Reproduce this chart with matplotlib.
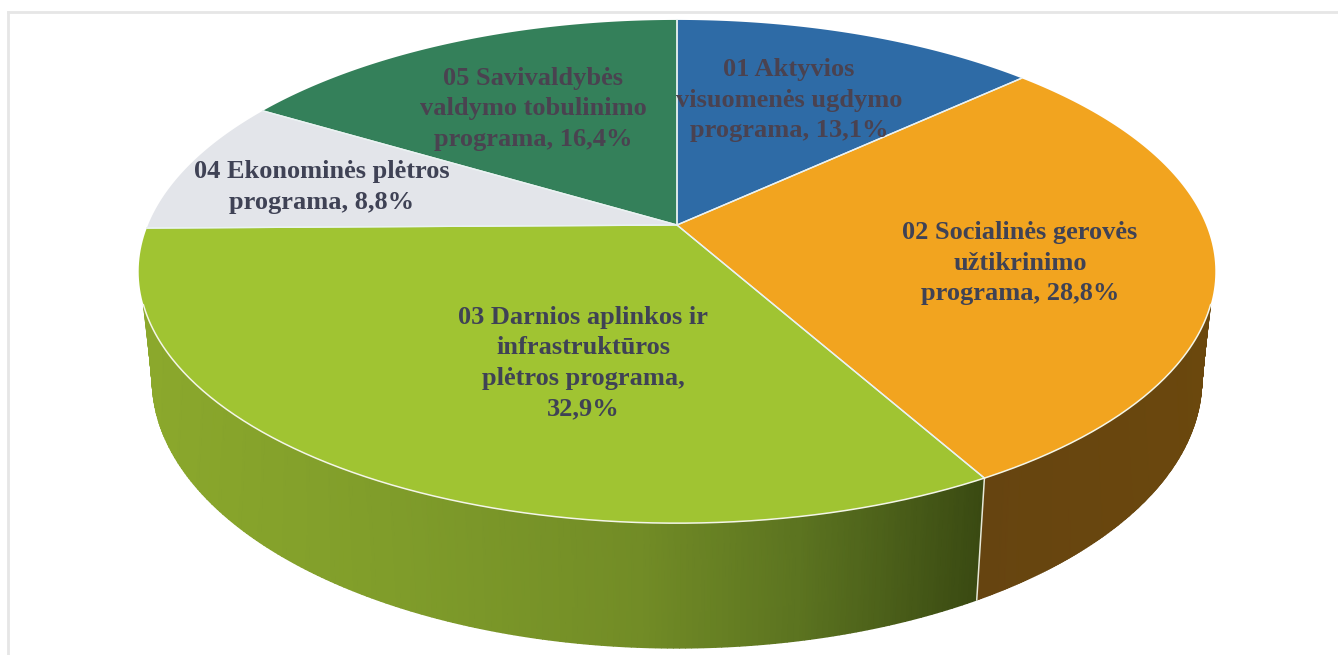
import numpy as np
import matplotlib.pyplot as plt
from matplotlib.colors import LinearSegmentedColormap

# Duomenys
names = ['01 Aktyvios\nvisuomenės ugdymo\nprograma, ',
         '02 Socialinės gerovės\nužtikrinimo\nprograma, ',
         '03 Darnios aplinkos ir\ninfrastruktūros\nplėtros programa,\n',
         '04 Ekonominės plėtros\nprograma, ',
         '05 Savivaldybės\nvaldymo tobulinimo\nprograma, ']
values = [13.1, 28.8, 32.9, 8.8, 16.4]
colors = ['#2E6BA6', '#F2A41F', '#A0C432', '#E3E5EA', '#34805A']
label_x = [789, 1020, 583, 322, 533]
label_y = [100, 263, 363, 187, 109]

# Pseudo-3D geometry of the pie, in pixels
cx, cy = 677, 225
A, B, k = 529, 243, 0.185
wall_sx, wall_sy, wall_drop = 0.975, 1.067, 105


def top_point(deg):
    t = np.radians(deg)
    u, v = np.sin(t), np.cos(t)
    d = 1 + k * v
    return cx + A * u / d, cy - B * v / d


def low_point(deg):
    x, y = top_point(deg)
    return cx + wall_sx * (x - cx), cy + wall_sy * (y - cy) + wall_drop


def warp(deg):
    # the silhouette of the wall is not vertical near the sides
    d = deg - 180
    return deg - np.sign(d) * 7.5 * np.maximum(0, (np.abs(d) - 30) / 49.5)


green_stops = [(150, '#8BA82C'), (400, '#7F9C2A'), (640, '#728C26'),
               (800, '#5C7420'), (900, '#4A5E19'), (985, '#3A4A12')]
brown_stops = [(980, '#664410'), (1215, '#6B480D')]

fig, ax = plt.subplots(figsize=(13.38, 6.55), dpi=100)
ax.set_position([0, 0, 1, 1])
ax.set_xlim(0, 1338)
ax.set_ylim(655, 0)
ax.axis('off')

# faint frame of the picture
ax.plot([8, 8], [655, 12], color='#E6E6E6', lw=2)
ax.plot([8, 1338], [12, 12], color='#E6E6E6', lw=2)

edges = np.concatenate([[0], np.cumsum(values)]) * 3.6

# side wall, smooth gradient on a two row mesh
seam = edges[2]
for a, b, stops in [(100.5, seam, brown_stops), (seam, edges[3] - 9.8, green_stops)]:
    steps = np.linspace(a, b, 200)
    xt, yt = top_point(warp(steps))
    xl, yl = low_point(steps)
    X = np.vstack([xt, xl])
    Y = np.vstack([yt, yl])
    lo, hi = stops[0][0], stops[-1][0]
    cmap = LinearSegmentedColormap.from_list(
        'wall', [((s[0] - lo) / (hi - lo), s[1]) for s in stops])
    ax.pcolormesh(X, Y, np.vstack([xt, xt]), cmap=cmap, vmin=lo, vmax=hi,
                  shading='gouraud', zorder=2)

# seam on the wall
sx0, sy0 = top_point(seam)
sx1, sy1 = low_point(seam)
ax.plot([sx0, sx1], [sy0, sy1], color='#E8E8D8', lw=1.1, zorder=3)

# top face
for i, col in enumerate(colors):
    ang = np.linspace(edges[i], edges[i + 1], 120)
    px, py = top_point(ang)
    ax.fill(np.r_[cx, px], np.r_[cy, py], color=col, lw=0, zorder=4)
    # thin white line between the slices
    ax.plot([px[0], cx, px[-1]], [py[0], cy, py[-1]], color='#EAF2F2', lw=1.0, zorder=5)

# light rim along the front edge
rx, ry = top_point(np.linspace(108, warp(edges[3] - 9.8), 300))
ax.plot(rx, ry, color='#F4F6E8', lw=1.1, zorder=5)

# labels
for i, name in enumerate(names):
    txt = name + f'{values[i]:.1f}'.replace('.', ',') + '%'
    dark = i in (0, 4)
    ax.text(label_x[i], label_y[i], txt, ha='center', va='center', multialignment='center',
            family='Liberation Serif', weight='bold', fontsize=19,
            linespacing=1.41, color='#4A4250' if dark else '#3F4255', zorder=6)

plt.savefig('out.png', dpi=100)
